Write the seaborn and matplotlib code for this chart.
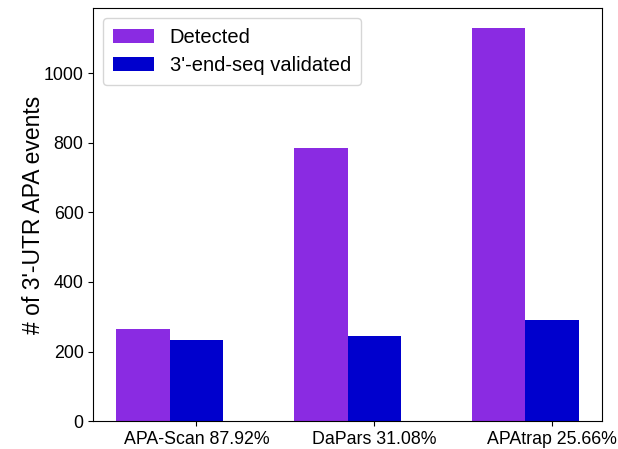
import matplotlib
matplotlib.use("Agg")
import matplotlib.pyplot as plt
import seaborn as sns
import pandas as pd

tools = ["APA-Scan", "DaPars", "APAtrap"]
detected = [265, 785, 1130]
validated = [233, 244, 290]
tick_labels = ["APA-Scan 87.92%", "DaPars 31.08%", "APAtrap 25.66%"]
series_names = ["Detected", "3'-end-seq validated"]
colors = ["#8A2BE2", "#0000CD"]

df = pd.DataFrame({
    "tool": tools * 2,
    "count": detected + validated,
    "series": [series_names[0]] * 3 + [series_names[1]] * 3,
})

plt.rcParams['font.family'] = ['Liberation Sans', 'DejaVu Sans']
fig, ax = plt.subplots(figsize=(6.18, 4.49), dpi=100)
fig.subplots_adjust(left=0.151, right=0.974, top=0.982, bottom=0.062)

sns.barplot(data=df, x="tool", y="count", hue="series", order=tools,
            hue_order=series_names, palette=colors, width=0.6,
            saturation=1, ax=ax, errorbar=None, edgecolor="none")

ax.set_xticks([i + 0.15 for i in range(len(tools))])
ax.set_xticklabels(tick_labels, fontsize=12.8)
ax.set_xlim(-0.43, 2.43)
ax.set_ylim(0, 1186.5)
ax.tick_params(axis='y', labelsize=12.8)
ax.set_xlabel("")
ax.set_ylabel("# of 3'-UTR APA events", fontsize=16.5, labelpad=-1)
for s in ax.spines.values():
    s.set_visible(True)
    s.set_color("black")
ax.legend(loc="upper left", fontsize=14.5, title=None, handlelength=2.0,
          handleheight=0.7, borderpad=0.5, labelspacing=0.45)

fig.savefig("out.png", dpi=100)
